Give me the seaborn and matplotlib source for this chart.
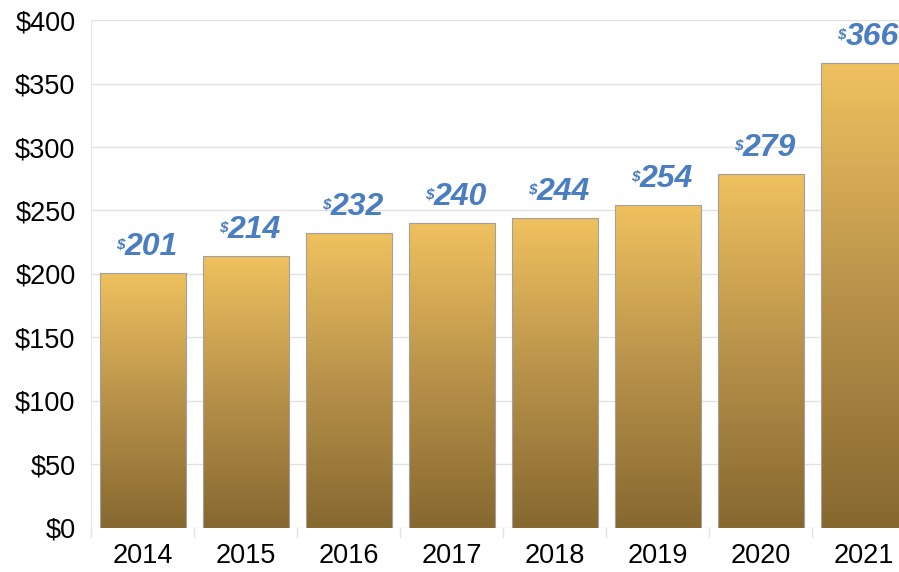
import numpy as np
import pandas as pd
import matplotlib
matplotlib.use('Agg')
import matplotlib.pyplot as plt
from matplotlib.colors import LinearSegmentedColormap
import seaborn as sns

# data
years = ['2014', '2015', '2016', '2017', '2018', '2019', '2020', '2021']
values = [201, 214, 232, 240, 244, 254, 279, 366]
yticks = [0, 50, 100, 150, 200, 250, 300, 350, 400]

df = pd.DataFrame({'year': years, 'value': values})

sns.set_style('white')
plt.rcParams['font.family'] = ['Liberation Sans', 'DejaVu Sans']

fig = plt.figure(figsize=(8.99, 5.72), dpi=100)
ax = fig.add_axes([0.101, 0.077, 0.899, 0.888])

sns.barplot(data=df, x='year', y='value', ax=ax, width=0.84,
            color='#d9ad55', edgecolor='#a0a0a0', linewidth=0.8, zorder=3)

# gold gradient, light on top and dark at the base
cmap = LinearSegmentedColormap.from_list('gold', ['#86682f', '#b8924a', '#efc15e'])
grad = np.linspace(0, 1, 256).reshape(-1, 1)
for p in ax.patches:
    x0, w, h = p.get_x(), p.get_width(), p.get_height()
    im = ax.imshow(grad, extent=[x0, x0 + w, 0, h], origin='lower', aspect='auto',
                   cmap=cmap, zorder=3.5)
    im.set_clip_path(p)
    p.set_facecolor('none')
    p.set_zorder(4)

ax.set_xlim(-0.505, 7.34)
ax.set_ylim(0, 400)
ax.set_yticks(yticks)
ax.set_yticklabels([f'${v}' for v in yticks])
ax.set_xlabel('')
ax.set_ylabel('')

# horizontal grid, boundary ticks under the categories
ax.grid(axis='y', color='#e2e2e2', linewidth=1, zorder=0)
ax.set_xticks(np.arange(len(years)))
ax.set_xticklabels(years)
ax.tick_params(axis='x', length=0, labelsize=19.5, labelcolor='black', pad=11)
ax.tick_params(axis='y', length=7, color='#e2e2e2', labelsize=19.5,
               labelcolor='black', pad=4)
for b in np.arange(0.5, len(years) - 1, 1.0):
    ax.plot([b, b], [0, -0.018], transform=ax.get_xaxis_transform(),
            color='#e2e2e2', lw=1, clip_on=False)
ax.plot([-0.505, -0.505], [0, -0.018], transform=ax.get_xaxis_transform(),
        color='#e2e2e2', lw=1, clip_on=False)

for s in ['top', 'right', 'bottom']:
    ax.spines[s].set_visible(False)
ax.spines['left'].set_color('#e6e6e6')

# value labels
lab_color = '#4a7ec0'
fig.canvas.draw()
r = fig.canvas.get_renderer()
for i, v in enumerate(values):
    t = ax.annotate(str(v), (i, v), xytext=(6, 8), textcoords='offset points',
                    ha='center', va='bottom', fontsize=23, fontweight='bold',
                    style='italic', color=lab_color, zorder=6)
    bb = t.get_window_extent(r)
    ax.annotate('$', (bb.x0, bb.y1), xycoords='figure pixels', xytext=(0, -4),
                textcoords='offset points', ha='right', va='top', fontsize=11,
                fontweight='bold', style='italic', color=lab_color, zorder=6)

fig.savefig('out.png', dpi=100)
